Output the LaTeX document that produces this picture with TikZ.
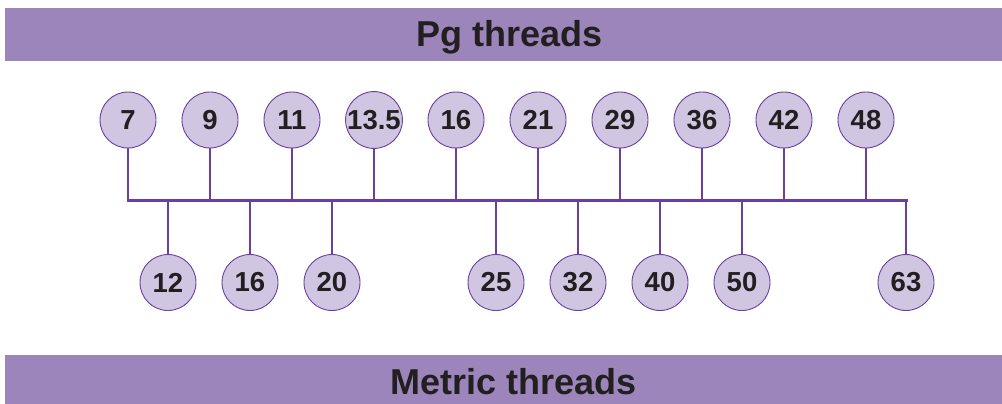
\documentclass[tikz,border=0pt]{standalone}
\usepackage{fontspec}
\setmainfont{Liberation Sans}
\definecolor{band}{HTML}{9B85BB}
\definecolor{cfill}{HTML}{D0C6E2}
\definecolor{cline}{HTML}{6A3FA0}
\definecolor{txt}{HTML}{231F20}
\tikzset{
  num/.style={circle, draw=cline, line width=0.9pt, fill=cfill, minimum size=56pt, inner sep=0pt,
    text=txt, font=\fontsize{27.5}{27.5}\selectfont\bfseries},
  title/.style={anchor=base, text=txt, font=\fontsize{36}{36}\selectfont\bfseries, inner sep=0pt},
  stem/.style={draw=cline, line width=1.6pt},
  bar/.style={draw=cline, line width=3pt}
}
\begin{document}
\begin{tikzpicture}[x=1pt,y=-1pt]
\useasboundingbox (0,0) rectangle (1002,404);
\fill[band] (5,8) rectangle (1002,61);
\fill[band] (5,355) rectangle (1002,404);
\node[title] (t1) at (510,46.7) {Pg threads};
\node[title] (t2) at (514,394) {Metric threads};
% bar ends
\coordinate (bl) at (128,200);
\coordinate (br) at (906,200);
% top circles
\foreach \nm/\x/\lab in {a/128/7, b/210/9, c/292/11, d/374/13.5, e/456/16, f/538/21, g/620/29, h/702/36, i/784/42, j/866/48}{
  \node[num] (\nm) at (\x,120) {\lab};
  \coordinate (\nm b) at (\x,200);
  \draw[stem] (\nm.south) -- (\nm b);
}
% bottom circles
\foreach \nm/\x/\lab in {k/168/12, l/250/16, m/332/20, n/496/25, o/578/32, p/660/40, q/742/50, r/906/63}{
  \node[num] (\nm) at (\x,282.5) {\lab};
  \coordinate (\nm b) at (\x,200);
  \draw[stem] (\nm b) -- (\nm.north);
}
\draw[bar, line cap=rect] (bl) -- (br);
\end{tikzpicture}
\end{document}
